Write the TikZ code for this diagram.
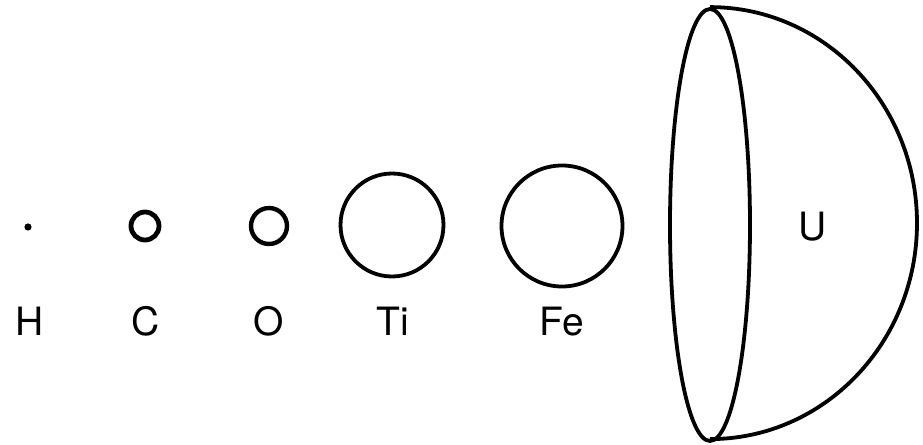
\documentclass[tikz,border=0pt]{standalone}
\usepackage{fontspec}
\setmainfont{TeX Gyre Heros}
\usepackage{tikz}
\usetikzlibrary{shapes.geometric, positioning}

\begin{document}
\begin{tikzpicture}[x=0.5pt, y=-0.5pt,
                atom/.style={draw, circle, line width=1.9pt, inner sep=0pt},
                elem/.style={anchor=base, font=\fontsize{19.5}{23}\selectfont}]
                \useasboundingbox (0,0) rectangle (923,445);
                % atoms, growing in size
                \node[circle, fill, inner sep=0pt, minimum size=3.6pt] (h) at (28,227) {};
                \node[atom, line width=2.4pt, minimum size=14pt] (c) at (145,226) {};
                \node[atom, line width=2.2pt, minimum size=18pt] (o) at (269,226) {};
                \node[atom, minimum size=51.5pt] (ti) at (392,225) {};
                \node[atom, minimum size=60.5pt] (fe) at (562,226) {};
                % uranium as a half sphere
                \node[draw, ellipse, line width=1.9pt, inner sep=0pt,
                    minimum width=40pt, minimum height=216pt] (rim) at (710,225) {};
                \draw[line width=1.9pt] (rim.north) arc[start angle=-90, end angle=90,
                    x radius=207, y radius=216];
                % labels
                \node[elem] (h-lbl) at (30,335) {H};
                \node[elem] (c-lbl) at (146,335) {C};
                \node[elem] (o-lbl) at (269,335) {O};
                \node[elem] (ti-lbl) at (393,335) {Ti};
                \node[elem] (fe-lbl) at (562,335) {Fe};
                \node[elem] (u-lbl) at (813,240) {U};
            \end{tikzpicture}
\end{document}
